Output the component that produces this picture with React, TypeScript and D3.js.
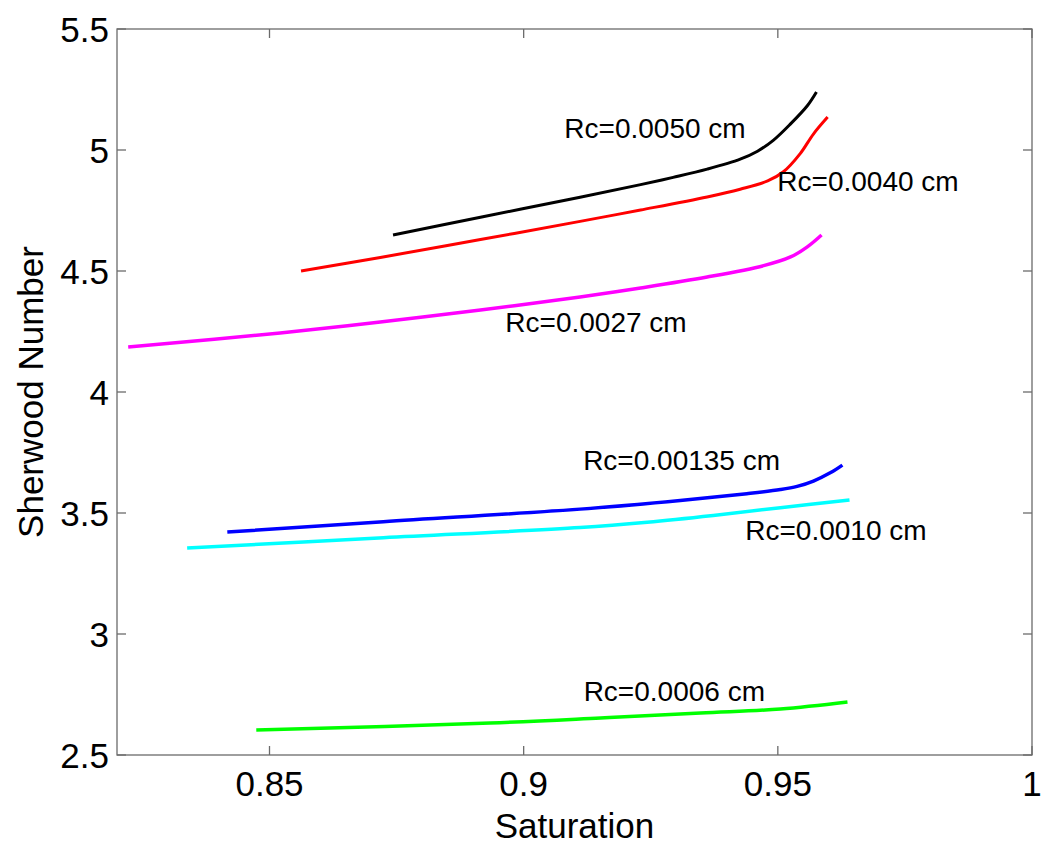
import React from "react";
import * as d3 from "d3";

const W = 1050;
const H = 853;
const margin = { left: 117, right: 18, top: 29, bottom: 98 };

const xTicks = [0.85, 0.9, 0.95, 1];
const xTickLabels = ["0.85", "0.9", "0.95", "1"];
const yTicks = [2.5, 3, 3.5, 4, 4.5, 5, 5.5];
const yTickLabels = ["2.5", "3", "3.5", "4", "4.5", "5", "5.5"];

// Rc = 0.0050 cm (black)
const satRc0050 = [0.8743, 0.8915, 0.9111, 0.923, 0.9294, 0.9361, 0.9426, 0.946, 0.9491, 0.9525, 0.9558, 0.9576];
const shRc0050 = [4.649, 4.722, 4.805, 4.857, 4.887, 4.921, 4.962, 4.995, 5.04, 5.108, 5.183, 5.24];
// Rc = 0.0040 cm (red)
const satRc0040 = [0.8562, 0.8718, 0.8915, 0.9111, 0.923, 0.9361, 0.9426, 0.948, 0.9511, 0.9544, 0.957, 0.9598];
const shRc0040 = [4.5, 4.556, 4.63, 4.705, 4.752, 4.806, 4.838, 4.872, 4.91, 4.985, 5.066, 5.136];
// Rc = 0.0027 cm (magenta)
const satRc0027 = [0.8222, 0.8521, 0.8718, 0.8915, 0.9111, 0.923, 0.9361, 0.9472, 0.9525, 0.9558, 0.9586];
const shRc0027 = [4.186, 4.244, 4.289, 4.339, 4.393, 4.43, 4.475, 4.522, 4.558, 4.6, 4.649];
// Rc = 0.00135 cm (blue)
const satRc00135 = [0.8417, 0.8724, 0.9111, 0.9308, 0.9439, 0.9505, 0.9538, 0.957, 0.9604, 0.9627];
const shRc00135 = [3.421, 3.464, 3.516, 3.552, 3.58, 3.597, 3.61, 3.632, 3.667, 3.698];
// Rc = 0.0010 cm (cyan)
const satRc0010 = [0.8338, 0.8724, 0.9111, 0.9243, 0.9373, 0.9505, 0.9641];
const shRc0010 = [3.355, 3.398, 3.44, 3.462, 3.49, 3.522, 3.554];
// Rc = 0.0006 cm (green)
const satRc0006 = [0.8474, 0.8934, 0.9151, 0.9348, 0.9505, 0.9637];
const shRc0006 = [2.603, 2.632, 2.653, 2.674, 2.69, 2.719];

const seriesColors = ["#000000", "#ff0000", "#ff00ff", "#0000ff", "#00ffff", "#00ff00"];
const seriesWidths = [3, 3, 3.5, 3.5, 3.5, 3.5];
const seriesLabels = ["Rc=0.0050 cm", "Rc=0.0040 cm", "Rc=0.0027 cm", "Rc=0.00135 cm", "Rc=0.0010 cm", "Rc=0.0006 cm"];
// label anchor in data coordinates (saturation, sherwood)
const labelSat = [0.9080, 0.9499, 0.8964, 0.9117, 0.9436, 0.9118];
const labelSh = [5.048, 4.829, 4.248, 3.677, 3.388, 2.723];

const xs = [satRc0050, satRc0040, satRc0027, satRc00135, satRc0010, satRc0006];
const ys = [shRc0050, shRc0040, shRc0027, shRc00135, shRc0010, shRc0006];

const FONT = "'Liberation Sans', Arial, Helvetica, sans-serif";

export default function App() {
  const x = d3.scaleLinear().domain([0.82, 1]).range([margin.left, W - margin.right]);
  const y = d3.scaleLinear().domain([2.5, 5.5]).range([H - margin.bottom, margin.top]);
  const line = d3
    .line<[number, number]>()
    .x((d) => x(d[0]))
    .y((d) => y(d[1]))
    .curve(d3.curveCatmullRom.alpha(0.5));

  const x0 = x.range()[0];
  const x1 = x.range()[1];
  const y0 = y.range()[0];
  const y1 = y.range()[1];
  const tl = 9;
  const axisColor = "#6b6b6b";

  return (
    <svg
      width={W}
      height={H}
      style={{ position: "absolute", left: 0, top: 0, background: "#fff" }}
      fontFamily={FONT}
    >
      <rect x={0} y={0} width={W} height={H} fill="#fff" />
      {xs.map((sx, i) => (
        <path
          key={"s" + i}
          d={line(sx.map((v, j) => [v, ys[i][j]] as [number, number])) || ""}
          fill="none"
          stroke={seriesColors[i]}
          strokeWidth={seriesWidths[i]}
          strokeLinejoin="round"
        />
      ))}
      {seriesLabels.map((t, i) => (
        <text key={"l" + i} x={x(labelSat[i])} y={y(labelSh[i])} fontSize={28} fill="#000">
          {t}
        </text>
      ))}
      {/* frame */}
      <rect x={x0} y={y1} width={x1 - x0} height={y0 - y1} fill="none" stroke={axisColor} strokeWidth={1.3} />
      {xTicks.map((v, i) => (
        <g key={"xt" + i}>
          <line x1={x(v)} x2={x(v)} y1={y0} y2={y0 - tl} stroke={axisColor} strokeWidth={1.3} />
          <line x1={x(v)} x2={x(v)} y1={y1} y2={y1 + tl} stroke={axisColor} strokeWidth={1.3} />
          <text x={x(v)} y={y0 + 41} fontSize={35} textAnchor="middle" fill="#000">
            {xTickLabels[i]}
          </text>
        </g>
      ))}
      {yTicks.map((v, i) => (
        <g key={"yt" + i}>
          <line x1={x0} x2={x0 + tl} y1={y(v)} y2={y(v)} stroke={axisColor} strokeWidth={1.3} />
          <line x1={x1} x2={x1 - tl} y1={y(v)} y2={y(v)} stroke={axisColor} strokeWidth={1.3} />
          <text x={x0 - 8} y={y(v)} dy="0.36em" fontSize={35} textAnchor="end" fill="#000">
            {yTickLabels[i]}
          </text>
        </g>
      ))}
      <text x={(x0 + x1) / 2} y={838} fontSize={35} textAnchor="middle" fill="#000">
        Saturation
      </text>
      <text
        transform={`translate(43, ${(y0 + y1) / 2}) rotate(-90)`}
        fontSize={35}
        textAnchor="middle"
        fill="#000"
      >
        Sherwood Number
      </text>
    </svg>
  );
}
